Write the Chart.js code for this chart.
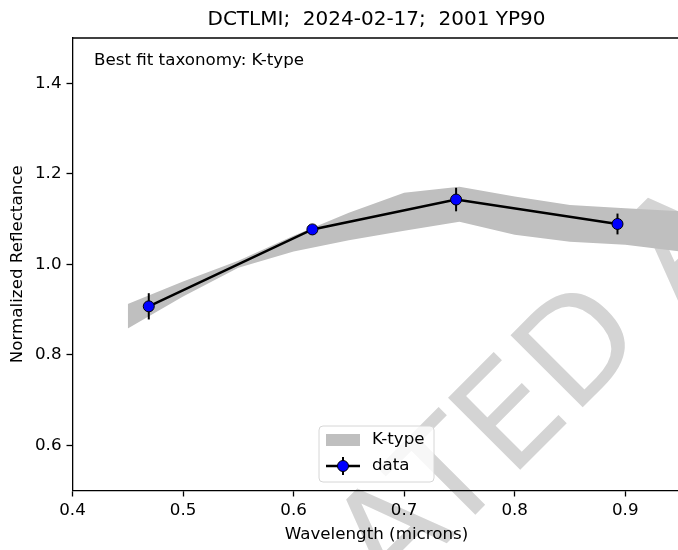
<!DOCTYPE html>
<html>
<head>
<meta charset="utf-8">
<script src="https://cdn.jsdelivr.net/npm/chart.js@4.4.1/dist/chart.umd.min.js"></script>
<style>
  html, body { margin: 0; padding: 0; background: #fff; overflow: hidden; width: 678px; height: 550px; }
  #wrap { position: relative; width: 690px; height: 550px; }
  canvas { display: block; }
</style>
</head>
<body>
<div id="wrap"><canvas id="c" width="690" height="550"></canvas></div>
<script>
// ---- data ----
const chartTitle = 'DCTLMI;  2024-02-17;  2001 YP90';
const annotation = 'Best fit taxonomy: K-type';
const dataLabel = 'data';
const bandLabel = 'K-type';
const xAxisTitle = 'Wavelength (microns)';
const yAxisTitle = 'Normalized Reflectance';
const watermarkText = 'ATED A';

const wavelengths = [0.469, 0.617, 0.747, 0.893];
const reflectance = [0.907, 1.077, 1.143, 1.089];
const reflectanceErr = [0.029, 0.008, 0.026, 0.023];

const bandWavelengths = [0.45, 0.50, 0.55, 0.60, 0.65, 0.70, 0.75, 0.80, 0.85, 0.90, 0.95];
const bandUpper = [0.912, 0.962, 1.008, 1.063, 1.114, 1.158, 1.171, 1.150, 1.131, 1.124, 1.117];
const bandLower = [0.858, 0.929, 0.992, 1.028, 1.053, 1.074, 1.094, 1.065, 1.050, 1.043, 1.028];

const xTicks = [0.4, 0.5, 0.6, 0.7, 0.8, 0.9];
const yTicks = [0.6, 0.8, 1.0, 1.2, 1.4];

// ---- styling ----
const FONT = "'DejaVu Sans', 'Liberation Sans', sans-serif";
const BAND_COLOR = '#bfbfbf';
const MARKER_COLOR = '#0000ff';

const errorBarPlugin = {
  id: 'errorBars',
  beforeDatasetDraw(chart, args) {
    if (args.index !== 0) return;
    const ctx = chart.ctx, xs = chart.scales.x, ys = chart.scales.y;
    ctx.save();
    ctx.strokeStyle = '#000';
    ctx.lineWidth = 2;
    wavelengths.forEach((w, i) => {
      const px = xs.getPixelForValue(w);
      const y1 = ys.getPixelForValue(reflectance[i] - reflectanceErr[i]);
      const y2 = ys.getPixelForValue(reflectance[i] + reflectanceErr[i]);
      ctx.beginPath(); ctx.moveTo(px, y1); ctx.lineTo(px, y2); ctx.stroke();
    });
    ctx.restore();
  }
};

const watermarkPlugin = {
  id: 'watermark',
  beforeDraw(chart) {
    const ctx = chart.ctx;
    ctx.save();
    ctx.translate(390, 600);
    ctx.rotate(-Math.PI / 4);
    ctx.font = '140px ' + FONT;
    ctx.fillStyle = '#d4d4d4';
    ctx.textBaseline = 'alphabetic';
    ctx.fillText(watermarkText, 0, 0);
    ctx.restore();
  }
};

const decorPlugin = {
  id: 'decor',
  afterDraw(chart) {
    const ctx = chart.ctx, a = chart.chartArea;
    ctx.save();
    // top spine
    ctx.strokeStyle = '#000';
    ctx.lineWidth = 1.3;
    ctx.beginPath(); ctx.moveTo(a.left, a.top); ctx.lineTo(a.right, a.top); ctx.stroke();

    // annotation text
    ctx.fillStyle = '#000';
    ctx.font = '16.7px ' + FONT;
    ctx.textBaseline = 'middle';
    ctx.textAlign = 'left';
    ctx.fillText(annotation, 94, 61);

    // legend box
    const bx = 319, by = 426, bw = 115, bh = 56, r = 4;
    ctx.beginPath();
    ctx.moveTo(bx + r, by);
    ctx.arcTo(bx + bw, by, bx + bw, by + bh, r);
    ctx.arcTo(bx + bw, by + bh, bx, by + bh, r);
    ctx.arcTo(bx, by + bh, bx, by, r);
    ctx.arcTo(bx, by, bx + bw, by, r);
    ctx.closePath();
    ctx.fillStyle = 'rgba(255,255,255,0.8)';
    ctx.fill();
    ctx.strokeStyle = '#d6d6d6';
    ctx.lineWidth = 1;
    ctx.stroke();

    // band entry
    ctx.fillStyle = BAND_COLOR;
    ctx.fillRect(326, 434, 34, 12);
    ctx.fillStyle = '#000';
    ctx.fillText(bandLabel, 372, 440);

    // data entry
    ctx.strokeStyle = '#000';
    ctx.lineWidth = 2.5;
    ctx.beginPath(); ctx.moveTo(326, 466); ctx.lineTo(360, 466); ctx.stroke();
    ctx.lineWidth = 2;
    ctx.beginPath(); ctx.moveTo(343, 457); ctx.lineTo(343, 475); ctx.stroke();
    ctx.beginPath(); ctx.arc(343, 466, 5.5, 0, Math.PI * 2);
    ctx.fillStyle = MARKER_COLOR; ctx.fill();
    ctx.lineWidth = 1; ctx.strokeStyle = '#000'; ctx.stroke();
    ctx.fillStyle = '#000';
    ctx.fillText(dataLabel, 372, 466);
    ctx.restore();
  }
};

const axisCommon = {
  border: { color: '#000', width: 1.3 },
  grid: { drawOnChartArea: false, drawTicks: true, tickLength: 6, tickColor: '#000', tickWidth: 1.3 },
};

new Chart(document.getElementById('c'), {
  type: 'line',
  data: {
    datasets: [
      {
        label: dataLabel,
        data: wavelengths.map((x, i) => ({ x, y: reflectance[i] })),
        borderColor: '#000',
        borderWidth: 2.5,
        pointRadius: 5.5,
        pointBackgroundColor: MARKER_COLOR,
        pointBorderColor: '#000',
        pointBorderWidth: 1,
        fill: false,
        order: 0,
        tension: 0
      },
      {
        label: bandLabel,
        data: bandWavelengths.map((x, i) => ({ x, y: bandUpper[i] })),
        borderWidth: 0,
        borderColor: 'rgba(0,0,0,0)',
        backgroundColor: BAND_COLOR,
        pointRadius: 0,
        fill: '+1',
        order: 1,
        tension: 0
      },
      {
        label: bandLabel + ' lower',
        data: bandWavelengths.map((x, i) => ({ x, y: bandLower[i] })),
        borderWidth: 0,
        borderColor: 'rgba(0,0,0,0)',
        pointRadius: 0,
        fill: false,
        order: 2,
        tension: 0
      }
    ]
  },
  options: {
    responsive: false,
    animation: false,
    events: [],
    layout: { padding: { left: 0, right: 9.5, top: 0, bottom: 0 } },
    plugins: {
      legend: { display: false },
      tooltip: { enabled: false },
      title: {
        display: true,
        fullSize: false,
        text: chartTitle,
        color: '#000',
        font: { family: FONT, size: 20, weight: 'normal' },
        padding: { top: 8, bottom: 6 }
      }
    },
    scales: {
      x: {
        type: 'linear',
        min: 0.4,
        max: 0.95,
        ...axisCommon,
        afterBuildTicks: s => { s.ticks = xTicks.map(v => ({ value: v })); },
        afterFit: s => { s.height = 59.5; },
        ticks: {
          color: '#000', font: { family: FONT, size: 16.7 }, padding: 4,
          maxRotation: 0, autoSkip: false, callback: v => Number(v).toFixed(1)
        },
        title: {
          display: true, text: xAxisTitle, color: '#000',
          font: { family: FONT, size: 16.7 }, padding: { top: 0, bottom: 5 }
        }
      },
      y: {
        type: 'linear',
        min: 0.5,
        max: 1.5,
        ...axisCommon,
        afterBuildTicks: s => { s.ticks = yTicks.map(v => ({ value: v })); },
        afterFit: s => { s.width = 72.5; },
        ticks: {
          color: '#000', font: { family: FONT, size: 16.7 }, padding: 5,
          autoSkip: false, callback: v => Number(v).toFixed(1)
        },
        title: {
          display: true, text: yAxisTitle, color: '#000',
          font: { family: FONT, size: 16.7 }, padding: { top: 8, bottom: 0 }
        }
      }
    }
  },
  plugins: [watermarkPlugin, errorBarPlugin, decorPlugin]
});
</script>
</body>
</html>
